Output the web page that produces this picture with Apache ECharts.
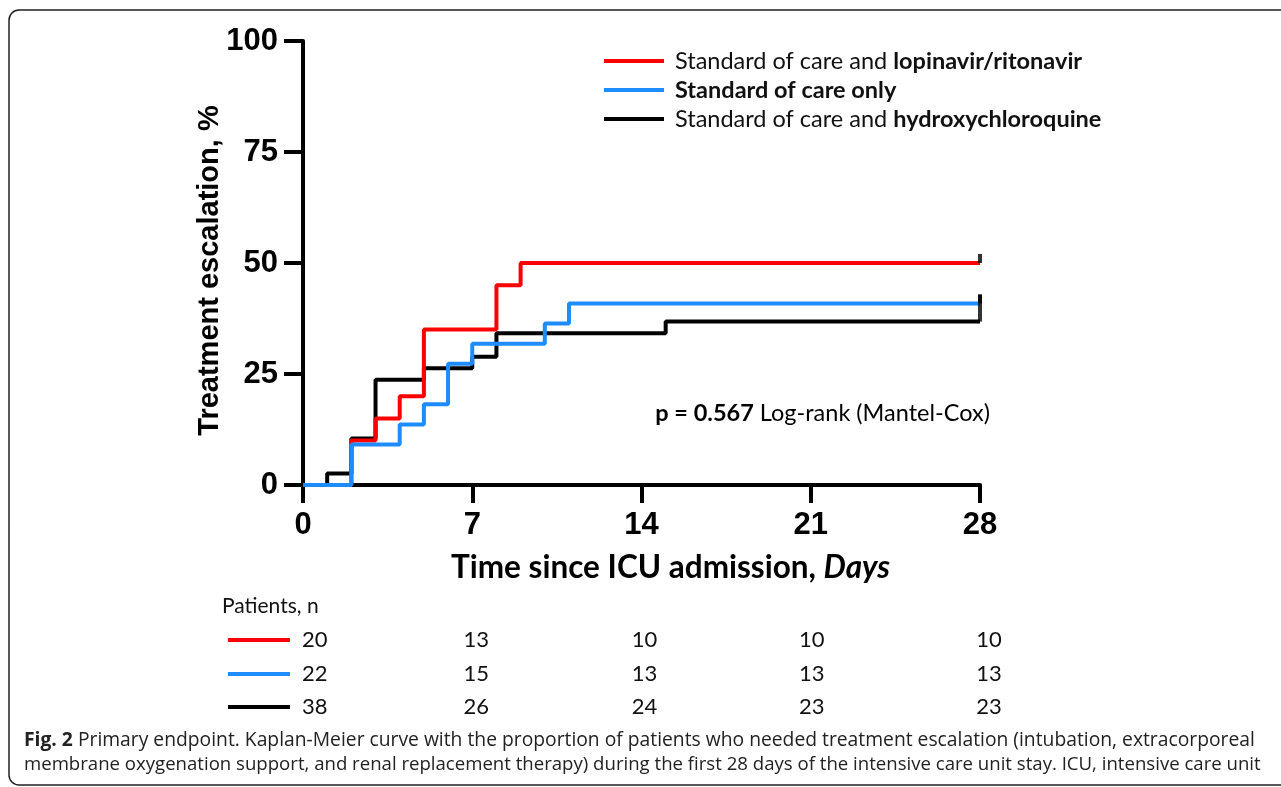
<!DOCTYPE html>
<html><head><meta charset="utf-8">
<script src="https://cdn.jsdelivr.net/npm/echarts@6/dist/echarts.min.js"></script>
<style>html,body{margin:0;padding:0;background:#fff}#c{width:1281px;height:787px}</style>
</head><body><div id="c"></div>
<script>
// ---------- data ----------
const groupNames = ['Standard of care and lopinavir/ritonavir', 'Standard of care only', 'Standard of care and hydroxychloroquine'];
const lpvDays = [0, 2, 3, 4, 5, 8, 9, 28];
const lpvPct  = [0, 10, 15, 20, 35, 45, 50, 50];
const socDays = [0, 2, 4, 5, 6, 7, 10, 11, 28];
const socPct  = [0, 9.1, 13.6, 18.2, 27.3, 31.8, 36.4, 40.9, 40.9];
const hcqDays = [0, 1, 2, 3, 5, 7, 8, 15, 28];
const hcqPct  = [0, 2.6, 10.5, 23.7, 26.3, 28.9, 34.2, 36.8, 36.8];
const xTicks = [0, 7, 14, 21, 28];
const yTicks = [0, 25, 50, 75, 100];
const atRiskDays = [0, 7, 14, 21, 28];
const lpvAtRisk = [20, 13, 10, 10, 10];
const socAtRisk = [22, 15, 13, 13, 13];
const hcqAtRisk = [38, 26, 24, 23, 23];
const pText = 'p = 0.567';
const pTestText = ' Log-rank (Mantel-Cox)';
const captionBold = 'Fig. 2';
const captionLine1 = ' Primary endpoint. Kaplan-Meier curve with the proportion of patients who needed treatment escalation (intubation, extracorporeal';
const captionLine2 = 'membrane oxygenation support, and renal replacement therapy) during the first 28 days of the intensive care unit stay. ICU, intensive care unit';

// ---------- styles ----------
const RED = '#ff0000', BLUE = '#1e8cff', BLACK = '#000000';
const CAL = 'Lato, "Open Sans", sans-serif';
const ARIAL = '"Liberation Sans", Arial, sans-serif';
const zip = (a, b) => a.map((v, i) => [v, b[i]]);
const last = a => a[a.length - 1];

const chart = echarts.init(document.getElementById('c'), null, {renderer: 'canvas'});

function kmSeries(name, days, pct, color, z) {
  return {
    name: name, type: 'line', step: 'end', data: zip(days, pct),
    showSymbol: false, symbol: 'none', color: color, z: z,
    lineStyle: {color: color, width: 4}, animation: false
  };
}
function censor(days, pct, h) {
  return {
    type: 'scatter', data: [[last(days), last(pct)]], symbol: 'rect',
    symbolSize: [4, h], symbolOffset: [0, -h / 2], itemStyle: {color: BLACK},
    z: 5, silent: true, animation: false
  };
}

const legendRich = {
  n: {fontFamily: CAL, fontSize: 23.5, color: '#111', lineHeight: 26},
  b: {fontFamily: CAL, fontSize: 23.5, fontWeight: 'bold', color: '#111', lineHeight: 26}
};

chart.setOption({
  backgroundColor: '#fff',
  animation: false,
  grid: {left: 303, right: 301, top: 41, bottom: 302},
  legend: {
    data: [groupNames[0], groupNames[1], groupNames[2]],
    orient: 'vertical', left: 599, top: 44, itemGap: 5,
    icon: 'rect', itemWidth: 60, itemHeight: 4, selectedMode: false,
    textStyle: {padding: [0, 0, 0, 6], rich: legendRich},
    formatter: function (name) {
      if (name === groupNames[1]) return '{b|' + name + '}';
      const parts = name.split(' and ');
      return '{n|' + parts[0] + ' and }{b|' + parts[1] + '}';
    }
  },
  xAxis: {
    type: 'value', min: xTicks[0], max: last(xTicks), interval: xTicks[1] - xTicks[0],
    splitLine: {show: false},
    axisLine: {lineStyle: {color: BLACK, width: 4}},
    axisTick: {length: 18, lineStyle: {color: BLACK, width: 4}},
    axisLabel: {color: BLACK, fontFamily: ARIAL, fontWeight: 'bold', fontSize: 31, margin: 25},
    name: '{b|Time since ICU admission, }{i|Days}',
    nameLocation: 'middle', nameGap: 67,
    nameTextStyle: {
      padding: [0, 0, 0, 58],
      rich: {
        b: {fontFamily: CAL, fontWeight: 'bold', fontSize: 31.5, color: BLACK},
        i: {fontFamily: CAL, fontWeight: 'bold', fontStyle: 'italic', fontSize: 31.5, color: BLACK}
      }
    }
  },
  yAxis: {
    type: 'value', min: yTicks[0], max: last(yTicks), interval: yTicks[1] - yTicks[0],
    splitLine: {show: false},
    axisLine: {lineStyle: {color: BLACK, width: 4}},
    axisTick: {length: 19, lineStyle: {color: BLACK, width: 4}},
    axisLabel: {color: BLACK, fontFamily: ARIAL, fontWeight: 'bold', fontSize: 31, margin: 25},
    name: 'Treatment escalation, %', nameLocation: 'middle', nameGap: 79, nameRotate: 90,
    nameMoveOverlap: false,
    nameTextStyle: {color: BLACK, fontFamily: ARIAL, fontWeight: 'bold', fontSize: 29, padding: [0, 15, 0, 0]}
  },
  series: [
    kmSeries(groupNames[2], hcqDays, hcqPct, BLACK, 2),
    kmSeries(groupNames[0], lpvDays, lpvPct, RED, 3),
    kmSeries(groupNames[1], socDays, socPct, BLUE, 4),
    censor(lpvDays, lpvPct, 9),
    censor(socDays, socPct, 9),
    censor(hcqDays, hcqPct, 27)
  ]
});

// ---------- annotations & at-risk table (positions from the x scale) ----------
const g = [];
g.push({type: 'rect', shape: {x: 9, y: 10, width: 1300, height: 775, r: 10},
        style: {fill: 'none', stroke: '#222', lineWidth: 1.5}, silent: true});
g.push({type: 'text', x: 990, y: 413,
        style: {text: '{b|' + pText + '}{n|' + pTestText + '}', align: 'right', verticalAlign: 'middle', rich: legendRich}});
g.push({type: 'text', x: 222, y: 606,
        style: {text: 'Patients, n', fontFamily: CAL, fontSize: 21, fill: '#111', verticalAlign: 'middle'}});
const rows = [lpvAtRisk, socAtRisk, hcqAtRisk];
const rowColors = [RED, BLUE, BLACK];
const rowY = [640, 674, 707];
const colOffset = [-1, 4, 3, 1, 9];
rows.forEach((vals, r) => {
  g.push({type: 'line', shape: {x1: 228, y1: rowY[r], x2: 290, y2: rowY[r]},
          style: {stroke: rowColors[r], lineWidth: 4}});
  vals.forEach((v, i) => {
    const px = chart.convertToPixel({xAxisIndex: 0}, atRiskDays[i]) + colOffset[i];
    g.push({type: 'text', x: px, y: rowY[r],
            style: {text: String(v), fontFamily: CAL, fontSize: 22, fill: '#111',
                    align: i === 0 ? 'left' : 'center', verticalAlign: 'middle'}});
  });
});
const capFont = '"Open Sans", sans-serif';
g.push({type: 'text', x: 24, y: 741,
        style: {text: '{b|' + captionBold + '}{n|' + captionLine1 + '}', verticalAlign: 'middle',
                rich: {b: {fontFamily: capFont, fontWeight: 'bold', fontSize: 19.3, fill: '#222'},
                       n: {fontFamily: capFont, fontSize: 19.3, fill: '#222'}}}});
g.push({type: 'text', x: 24, y: 765,
        style: {text: captionLine2, verticalAlign: 'middle', fontFamily: capFont, fontSize: 18.6, fill: '#222'}});
chart.setOption({graphic: g});
</script>
</body></html>
